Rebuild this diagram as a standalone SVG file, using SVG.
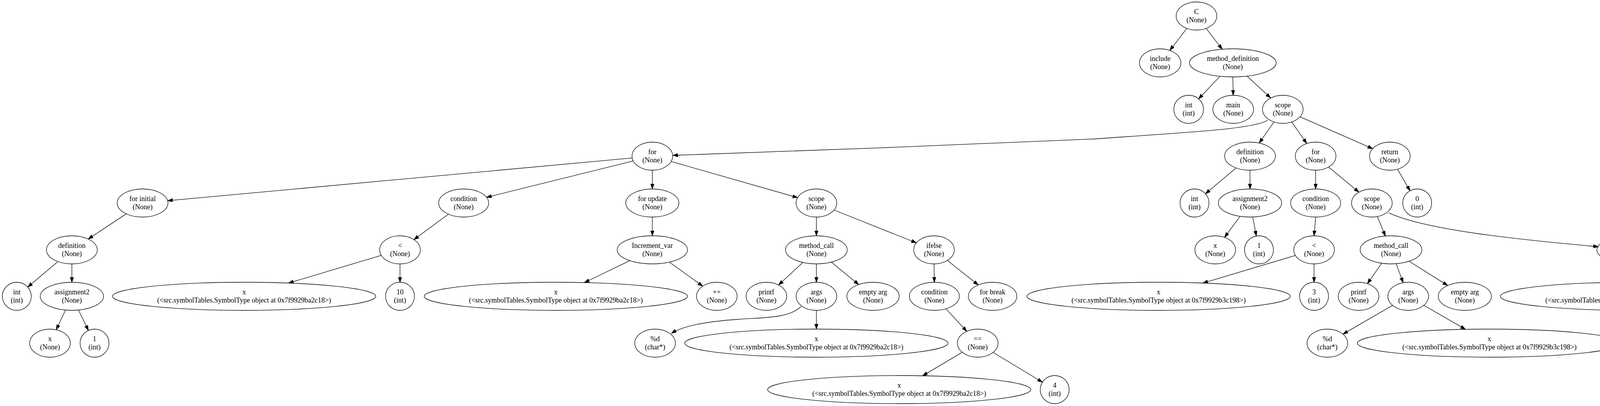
<svg xmlns="http://www.w3.org/2000/svg" width="4650" height="1040" viewBox="0 0 4650 1040">
<style>
.node ellipse{fill:none;stroke:#000;stroke-width:1.3}
.node text{font-family:"Liberation Serif","Times New Roman",serif;font-size:18px;text-anchor:middle;fill:#000}
.edge{fill:none;stroke:#000;stroke-width:1.3;marker-end:url(#ah)}
</style>
<defs>
<marker id="ah" markerUnits="userSpaceOnUse" markerWidth="14" markerHeight="10" refX="13" refY="4.5" orient="auto" viewBox="0 0 14 10">
<path d="M0,0 L13,4.5 L0,9 Z" fill="#000" stroke="#000" stroke-width="1"/>
</marker>
</defs>
<rect width="4650" height="1040" fill="#fff"/>
<g id="edges">
<path class="edge" d="M3038.4,72.7 L2994.7,129.1"/>
<path class="edge" d="M3087.6,72.7 L3128.9,126.1"/>
<path class="edge" d="M3123.3,195.4 L3068.4,253.2"/>
<path class="edge" d="M3156,197 L3157,244"/>
<path class="edge" d="M3192.6,195 L3252.9,251.1"/>
<path class="edge" d="M3245,308 C3210,330 3060,338 2800,356 C2540,368 2000,389 1722.5,398"/>
<path class="edge" d="M3261.3,312.4 L3223.5,366.4"/>
<path class="edge" d="M3306.7,312.4 L3345.3,367.6"/>
<path class="edge" d="M3327.9,299.2 L3514.1,380.8"/>
<path class="edge" d="M1618.5,404.7 L429.1,514.1"/>
<path class="edge" d="M1621.1,412.2 L1245.5,505.5"/>
<path class="edge" d="M1670,436 L1670,484"/>
<path class="edge" d="M1718.1,413.7 L2041.9,506.3"/>
<path class="edge" d="M323.3,547.6 L225.7,612.4"/>
<path class="edge" d="M148.3,670.1 L70.9,735.4"/>
<path class="edge" d="M184,676 L184,723"/>
<path class="edge" d="M167.6,794.2 L144,844.7"/>
<path class="edge" d="M201,794.2 L226.3,846.4"/>
<path class="edge" d="M1148.1,548.6 L1059.6,613.8"/>
<path class="edge" d="M976.2,654.2 L738.6,725.1"/>
<path class="edge" d="M1024,676 L1024,723"/>
<path class="edge" d="M1670,556 L1670,604"/>
<path class="edge" d="M1612.5,667.7 L1495.9,723.9"/>
<path class="edge" d="M1713.7,671.5 L1799,733"/>
<path class="edge" d="M2090,556 L2090,604"/>
<path class="edge" d="M2135.1,538 L2345.9,622"/>
<path class="edge" d="M2055.2,672.3 L1993.1,730.1"/>
<path class="edge" d="M2090,676 L2090,723"/>
<path class="edge" d="M2128.4,671.5 L2198.3,728.9"/>
<path class="edge" d="M2051,785 C2020,815 1960,813 1890,818 C1800,824 1745,837 1719,854"/>
<path class="edge" d="M2090,795 L2090,843"/>
<path class="edge" d="M2391,676 L2392,723"/>
<path class="edge" d="M2425.2,667.1 L2504.4,730"/>
<path class="edge" d="M2421.5,790.9 L2475,848.7"/>
<path class="edge" d="M2463.5,902.4 L2361.8,962.6"/>
<path class="edge" d="M2542.2,902.7 L2668.6,979"/>
<path class="edge" d="M3164.4,430.1 L3085.9,496.4"/>
<path class="edge" d="M3200,436 L3200,484"/>
<path class="edge" d="M3174.6,554.2 L3134.8,608"/>
<path class="edge" d="M3206.9,555.9 L3216.2,604.6"/>
<path class="edge" d="M3368,436 L3368,484"/>
<path class="edge" d="M3401.2,427.7 L3478.8,492.3"/>
<path class="edge" d="M3368,556 L3364,604"/>
<path class="edge" d="M3316.3,654.3 L3079.4,725.1"/>
<path class="edge" d="M3364,676 L3364,723"/>
<path class="edge" d="M3526.1,554.6 L3546.5,604.6"/>
<path class="edge" d="M3555,545 C3650,590 3900,615 4092,632"/>
<path class="edge" d="M3537.1,674.3 L3500.6,726.6"/>
<path class="edge" d="M3574.1,675.5 L3592.1,724.1"/>
<path class="edge" d="M3607.3,669.2 L3706.2,731.4"/>
<path class="edge" d="M3565.1,782.1 L3437.9,855.9"/>
<path class="edge" d="M3644.9,782 L3751.6,843.6"/>
<path class="edge" d="M4179,676 L4179,723"/>
<path class="edge" d="M4267,653 C4340,667 4500,705 4555,734"/>
<path class="edge" d="M3577.5,433.4 L3609.7,488.7"/>
</g>
<g id="n0" class="node"><ellipse cx="3063" cy="41" rx="52" ry="36"/><text x="3063" y="36">C</text><text x="3063" y="57">(None)</text></g>
<g id="n1" class="node"><ellipse cx="2970" cy="161" rx="53" ry="36"/><text x="2970" y="156">include</text><text x="2970" y="177">(None)</text></g>
<g id="n2" class="node"><ellipse cx="3156" cy="161" rx="111" ry="36"/><text x="3156" y="156">method_definition</text><text x="3156" y="177">(None)</text></g>
<g id="n3" class="node"><ellipse cx="3043" cy="280" rx="38" ry="36"/><text x="3043" y="275">int</text><text x="3043" y="296">(int)</text></g>
<g id="n4" class="node"><ellipse cx="3157" cy="280" rx="52" ry="36"/><text x="3157" y="275">main</text><text x="3157" y="296">(None)</text></g>
<g id="n5" class="node"><ellipse cx="3284" cy="280" rx="52" ry="36"/><text x="3284" y="275">scope</text><text x="3284" y="296">(None)</text></g>
<g id="n6" class="node"><ellipse cx="1670" cy="400" rx="52" ry="36"/><text x="1670" y="395">for</text><text x="1670" y="416">(None)</text></g>
<g id="n7" class="node"><ellipse cx="3200" cy="400" rx="65" ry="36"/><text x="3200" y="395">definition</text><text x="3200" y="416">(None)</text></g>
<g id="n8" class="node"><ellipse cx="3368" cy="400" rx="52" ry="36"/><text x="3368" y="395">for</text><text x="3368" y="416">(None)</text></g>
<g id="n9" class="node"><ellipse cx="3558" cy="400" rx="52" ry="36"/><text x="3558" y="395">return</text><text x="3558" y="416">(None)</text></g>
<g id="n10" class="node"><ellipse cx="365" cy="520" rx="65" ry="36"/><text x="365" y="515">for initial</text><text x="365" y="536">(None)</text></g>
<g id="n11" class="node"><ellipse cx="1187" cy="520" rx="64" ry="36"/><text x="1187" y="515">condition</text><text x="1187" y="536">(None)</text></g>
<g id="n12" class="node"><ellipse cx="1670" cy="520" rx="68" ry="36"/><text x="1670" y="515">for update</text><text x="1670" y="536">(None)</text></g>
<g id="n13" class="node"><ellipse cx="2090" cy="520" rx="52" ry="36"/><text x="2090" y="515">scope</text><text x="2090" y="536">(None)</text></g>
<g id="n14" class="node"><ellipse cx="3058" cy="520" rx="37" ry="36"/><text x="3058" y="515">int</text><text x="3058" y="536">(int)</text></g>
<g id="n15" class="node"><ellipse cx="3200" cy="520" rx="81" ry="36"/><text x="3200" y="515">assignment2</text><text x="3200" y="536">(None)</text></g>
<g id="n16" class="node"><ellipse cx="3368" cy="520" rx="64" ry="36"/><text x="3368" y="515">condition</text><text x="3368" y="536">(None)</text></g>
<g id="n17" class="node"><ellipse cx="3512" cy="520" rx="52" ry="36"/><text x="3512" y="515">scope</text><text x="3512" y="536">(None)</text></g>
<g id="n18" class="node"><ellipse cx="3628" cy="520" rx="37" ry="36"/><text x="3628" y="515">0</text><text x="3628" y="536">(int)</text></g>
<g id="n19" class="node"><ellipse cx="184" cy="640" rx="65" ry="36"/><text x="184" y="635">definition</text><text x="184" y="656">(None)</text></g>
<g id="n20" class="node"><ellipse cx="1024" cy="640" rx="52" ry="36"/><text x="1024" y="635">&lt;</text><text x="1024" y="656">(None)</text></g>
<g id="n21" class="node"><ellipse cx="1670" cy="640" rx="90" ry="36"/><text x="1670" y="635">Increment_var</text><text x="1670" y="656">(None)</text></g>
<g id="n22" class="node"><ellipse cx="2090" cy="640" rx="79" ry="36"/><text x="2090" y="635">method_call</text><text x="2090" y="656">(None)</text></g>
<g id="n23" class="node"><ellipse cx="2391" cy="640" rx="52" ry="36"/><text x="2391" y="635">ifelse</text><text x="2391" y="656">(None)</text></g>
<g id="n24" class="node"><ellipse cx="3111" cy="640" rx="52" ry="36"/><text x="3111" y="635">x</text><text x="3111" y="656">(None)</text></g>
<g id="n25" class="node"><ellipse cx="3223" cy="640" rx="37" ry="36"/><text x="3223" y="635">1</text><text x="3223" y="656">(int)</text></g>
<g id="n26" class="node"><ellipse cx="3364" cy="640" rx="52" ry="36"/><text x="3364" y="635">&lt;</text><text x="3364" y="656">(None)</text></g>
<g id="n27" class="node"><ellipse cx="3561" cy="640" rx="79" ry="36"/><text x="3561" y="635">method_call</text><text x="3561" y="656">(None)</text></g>
<g id="n28" class="node"><ellipse cx="4179" cy="640" rx="91" ry="36"/><text x="4179" y="635">Increment_var</text><text x="4179" y="656">(None)</text></g>
<g id="n29" class="node"><ellipse cx="43" cy="759" rx="37" ry="36"/><text x="43" y="754">int</text><text x="43" y="775">(int)</text></g>
<g id="n30" class="node"><ellipse cx="184" cy="759" rx="81" ry="36"/><text x="184" y="754">assignment2</text><text x="184" y="775">(None)</text></g>
<g id="n31" class="node"><ellipse cx="625" cy="759" rx="337" ry="36"/><text x="625" y="754">x</text><text x="625" y="775">(&lt;src.symbolTables.SymbolType object at 0x7f9929ba2c18&gt;)</text></g>
<g id="n32" class="node"><ellipse cx="1024" cy="759" rx="37" ry="36"/><text x="1024" y="754">10</text><text x="1024" y="775">(int)</text></g>
<g id="n33" class="node"><ellipse cx="1423" cy="759" rx="337" ry="36"/><text x="1423" y="754">x</text><text x="1423" y="775">(&lt;src.symbolTables.SymbolType object at 0x7f9929ba2c18&gt;)</text></g>
<g id="n34" class="node"><ellipse cx="1835" cy="759" rx="52" ry="36"/><text x="1835" y="754">++</text><text x="1835" y="775">(None)</text></g>
<g id="n35" class="node"><ellipse cx="1962" cy="759" rx="52" ry="36"/><text x="1962" y="754">printf</text><text x="1962" y="775">(None)</text></g>
<g id="n36" class="node"><ellipse cx="2090" cy="759" rx="52" ry="36"/><text x="2090" y="754">args</text><text x="2090" y="775">(None)</text></g>
<g id="n37" class="node"><ellipse cx="2235" cy="759" rx="67" ry="36"/><text x="2235" y="754">empty arg</text><text x="2235" y="775">(None)</text></g>
<g id="n38" class="node"><ellipse cx="2392" cy="759" rx="64" ry="36"/><text x="2392" y="754">condition</text><text x="2392" y="775">(None)</text></g>
<g id="n39" class="node"><ellipse cx="2541" cy="759" rx="62" ry="36"/><text x="2541" y="754">for break</text><text x="2541" y="775">(None)</text></g>
<g id="n40" class="node"><ellipse cx="2966" cy="759" rx="337" ry="36"/><text x="2966" y="754">x</text><text x="2966" y="775">(&lt;src.symbolTables.SymbolType object at 0x7f9929b3c198&gt;)</text></g>
<g id="n41" class="node"><ellipse cx="3364" cy="759" rx="37" ry="36"/><text x="3364" y="754">3</text><text x="3364" y="775">(int)</text></g>
<g id="n42" class="node"><ellipse cx="3478" cy="759" rx="52" ry="36"/><text x="3478" y="754">printf</text><text x="3478" y="775">(None)</text></g>
<g id="n43" class="node"><ellipse cx="3605" cy="759" rx="52" ry="36"/><text x="3605" y="754">args</text><text x="3605" y="775">(None)</text></g>
<g id="n44" class="node"><ellipse cx="3750" cy="759" rx="68" ry="36"/><text x="3750" y="754">empty arg</text><text x="3750" y="775">(None)</text></g>
<g id="n45" class="node"><ellipse cx="4179" cy="759" rx="338" ry="36"/><text x="4179" y="754">x</text><text x="4179" y="775">(&lt;src.symbolTables.SymbolType object at 0x7f9929b3c198&gt;)</text></g>
<g id="n46" class="node"><ellipse cx="4593" cy="759" rx="52" ry="36"/><text x="4593" y="754">++</text><text x="4593" y="775">(None)</text></g>
<g id="n47" class="node"><ellipse cx="128" cy="879" rx="52" ry="36"/><text x="128" y="874">x</text><text x="128" y="895">(None)</text></g>
<g id="n48" class="node"><ellipse cx="242" cy="879" rx="37" ry="36"/><text x="242" y="874">1</text><text x="242" y="895">(int)</text></g>
<g id="n49" class="node"><ellipse cx="1677" cy="879" rx="52" ry="36"/><text x="1677" y="874">%d</text><text x="1677" y="895">(char*)</text></g>
<g id="n50" class="node"><ellipse cx="2090" cy="879" rx="337" ry="36"/><text x="2090" y="874">x</text><text x="2090" y="895">(&lt;src.symbolTables.SymbolType object at 0x7f9929ba2c18&gt;)</text></g>
<g id="n51" class="node"><ellipse cx="2503" cy="879" rx="52" ry="36"/><text x="2503" y="874">==</text><text x="2503" y="895">(None)</text></g>
<g id="n52" class="node"><ellipse cx="3398" cy="879" rx="52" ry="36"/><text x="3398" y="874">%d</text><text x="3398" y="895">(char*)</text></g>
<g id="n53" class="node"><ellipse cx="3813" cy="879" rx="338" ry="36"/><text x="3813" y="874">x</text><text x="3813" y="895">(&lt;src.symbolTables.SymbolType object at 0x7f9929b3c198&gt;)</text></g>
<g id="n54" class="node"><ellipse cx="2302" cy="998" rx="337" ry="36"/><text x="2302" y="993">x</text><text x="2302" y="1014">(&lt;src.symbolTables.SymbolType object at 0x7f9929ba2c18&gt;)</text></g>
<g id="n55" class="node"><ellipse cx="2700" cy="998" rx="37" ry="36"/><text x="2700" y="993">4</text><text x="2700" y="1014">(int)</text></g>
</svg>
